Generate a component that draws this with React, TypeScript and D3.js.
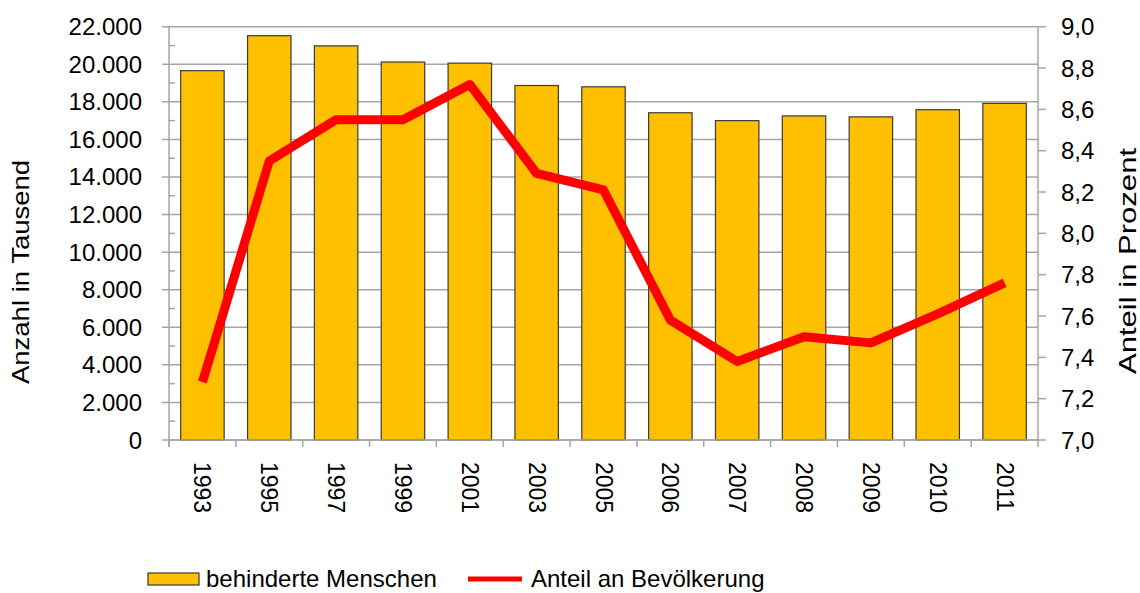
import React from "react";
import * as d3 from "d3";

const years = ["1993", "1995", "1997", "1999", "2001", "2003", "2005", "2006", "2007", "2008", "2009", "2010", "2011"];
const behinderte = [19660, 21520, 20980, 20120, 20060, 18870, 18800, 17420, 17000, 17250, 17200, 17580, 17920];
const anteil = [7.28, 8.35, 8.55, 8.55, 8.72, 8.29, 8.21, 7.58, 7.38, 7.5, 7.47, 7.61, 7.76];
const leftTicks = [0, 2000, 4000, 6000, 8000, 10000, 12000, 14000, 16000, 18000, 20000, 22000];
const rightTicks = [7.0, 7.2, 7.4, 7.6, 7.8, 8.0, 8.2, 8.4, 8.6, 8.8, 9.0];

const W = 1140;
const H = 593;
const left = 169;
const right = 1038;
const top = 26.7;
const bottom = 440;
const font = "'Liberation Sans', Arial, sans-serif";
const fs = 24;

const fmtLeft = (v: number) => d3.format(",")(v).replace(/,/g, ".");
const fmtRight = (v: number) => v.toFixed(1).replace(".", ",");

export default function App() {
  const x = d3.scaleBand<string>().domain(years).range([left, right]).paddingInner(0.35).paddingOuter(0.175);
  const band = d3.scaleBand<string>().domain(years).range([left, right]);
  const y = d3.scaleLinear().domain([0, 22000]).range([bottom, top]);
  const y2 = d3.scaleLinear().domain([7, 9]).range([bottom, top]);

  const line = d3
    .line<number>()
    .x((_, i) => band(years[i])! + band.bandwidth() / 2)
    .y((d) => y2(d));

  const minor = leftTicks.slice(0, -1).map((t) => t + 1000);
  const grid = "#a6a6a6";

  return (
    <svg width={W} height={H} style={{ position: "absolute", left: 0, top: 0 }} fontFamily={font}>
      <rect width={W} height={H} fill="#fff" />
      {/* gridlines + left major ticks */}
      {leftTicks.map((t) => (
        <line key={"g" + t} x1={left - 7} x2={right} y1={y(t)} y2={y(t)} stroke={grid} strokeWidth={1.5} />
      ))}
      {minor.map((t) => (
        <line key={"m" + t} x1={left} x2={left + 6} y1={y(t)} y2={y(t)} stroke={grid} strokeWidth={1.5} />
      ))}
      {/* axes */}
      <line x1={left} x2={left} y1={top} y2={bottom + 7} stroke={grid} strokeWidth={1.5} />
      <line x1={right} x2={right} y1={top} y2={bottom + 7} stroke={grid} strokeWidth={1.5} />
      {rightTicks.map((t) => (
        <line key={"r" + t} x1={right} x2={right + 8} y1={y2(t)} y2={y2(t)} stroke={grid} strokeWidth={1.5} />
      ))}
      {years.map((yr) => (
        <line key={"xt" + yr} x1={band(yr)!} x2={band(yr)!} y1={bottom} y2={bottom + 7} stroke={grid} strokeWidth={1.5} />
      ))}
      {/* bars */}
      {behinderte.map((v, i) => (
        <rect
          key={"b" + i}
          x={x(years[i])}
          y={y(v)}
          width={x.bandwidth()}
          height={bottom - y(v)}
          fill="#ffc000"
          stroke="#3a3a3a"
          strokeWidth={1.2}
        />
      ))}
      <line x1={left} x2={right} y1={bottom} y2={bottom} stroke={grid} strokeWidth={1.5} />
      {/* line */}
      <path d={line(anteil) || ""} fill="none" stroke="#ff0000" strokeWidth={9} strokeLinejoin="round" />
      {/* tick labels */}
      {leftTicks.map((t) => (
        <text key={"lt" + t} x={142} y={y(t)} textAnchor="end" dominantBaseline="central" fontSize={fs} fill="#000">
          {fmtLeft(t)}
        </text>
      ))}
      {rightTicks.map((t) => (
        <text key={"rt" + t} x={1061} y={y2(t)} textAnchor="start" dominantBaseline="central" fontSize={fs} fill="#000">
          {fmtRight(t)}
        </text>
      ))}
      {years.map((yr) => (
        <text
          key={"xl" + yr}
          transform={`translate(${band(yr)! + band.bandwidth() / 2},462) rotate(90)`}
          dominantBaseline="central"
          fontSize={23}
          fill="#000"
        >
          {yr}
        </text>
      ))}
      {/* axis titles */}
      <text
        transform="translate(20,272) rotate(-90)"
        textAnchor="middle"
        dominantBaseline="central"
        fontSize={fs}
        textLength={224}
        lengthAdjust="spacingAndGlyphs"
        fill="#000"
      >
        Anzahl in Tausend
      </text>
      <text
        transform="translate(1127,261) rotate(-90)"
        textAnchor="middle"
        dominantBaseline="central"
        fontSize={fs}
        textLength={226}
        lengthAdjust="spacingAndGlyphs"
        fill="#000"
      >
        Anteil in Prozent
      </text>
      {/* legend */}
      <rect x={148} y={573} width={51} height={12} fill="#ffc000" stroke="#3a3a3a" strokeWidth={1.2} />
      <text x={206} y={587} fontSize={fs} fill="#000">
        behinderte Menschen
      </text>
      <line x1={468} x2={522} y1={579} y2={579} stroke="#ff0000" strokeWidth={5} />
      <text x={531} y={587} fontSize={fs} fill="#000">
        Anteil an Bevölkerung
      </text>
    </svg>
  );
}
